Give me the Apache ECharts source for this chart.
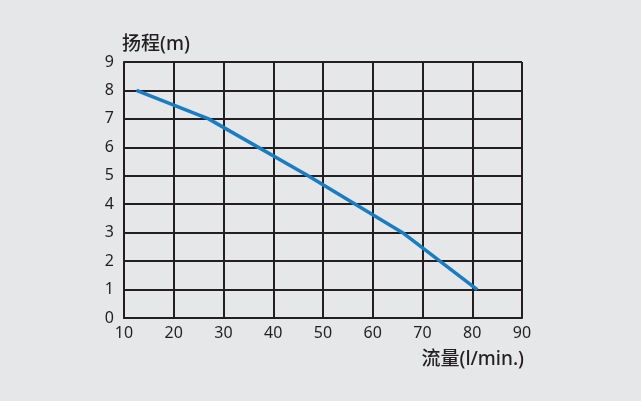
<!DOCTYPE html>
<html><head><meta charset="utf-8">
<script src="https://cdn.jsdelivr.net/npm/echarts@6/dist/echarts.min.js"></script>
<style>html,body{margin:0;padding:0;background:#e6e7e8;}#c{width:641px;height:401px;}</style>
</head><body><div id="c"></div>
<script>
const flow = [12.5, 27, 47, 66, 81];
const head = [8, 7, 5, 3, 1];
const xTicks = [10, 20, 30, 40, 50, 60, 70, 80, 90];
const yTicks = [0, 1, 2, 3, 4, 5, 6, 7, 8, 9];
const yName = '扬程(m)';
const xName = '流量(l/min.)';

const font = '"Noto Sans", "Noto Sans CJK SC", sans-serif';
const chart = echarts.init(document.getElementById('c'));
chart.setOption({
  backgroundColor: '#e6e7e8',
  animation: false,
  grid: {left: 124, right: 119, top: 62, bottom: 83},
  xAxis: {
    type: 'value', min: xTicks[0], max: xTicks[xTicks.length-1], interval: 10,
    axisLine: {show: true, lineStyle: {color: '#231f20', width: 2}},
    axisTick: {show: false},
    axisLabel: {color: '#231f20', fontSize: 16, fontFamily: font, margin: 7},
    splitLine: {show: true, lineStyle: {color: '#231f20', width: 2}}
  },
  yAxis: {
    type: 'value', min: yTicks[0], max: yTicks[yTicks.length-1], interval: 1,
    axisLine: {show: true, lineStyle: {color: '#231f20', width: 2}},
    axisTick: {show: false},
    axisLabel: {color: '#231f20', fontSize: 16, fontFamily: font, margin: 10},
    splitLine: {show: true, lineStyle: {color: '#231f20', width: 2}}
  },
  graphic: [
    {type: 'text', left: 122, top: 35, style: {text: yName, fill: '#231f20', font: '500 19px ' + font}},
    {type: 'text', right: 117, top: 350, style: {text: xName, fill: '#231f20', font: '500 19px ' + font}}
  ],
  series: [{
    type: 'line', data: flow.map((f, i) => [f, head[i]]),
    showSymbol: false, smooth: false,
    lineStyle: {color: '#1a7dc2', width: 3.5}
  }]
});
</script></body></html>
